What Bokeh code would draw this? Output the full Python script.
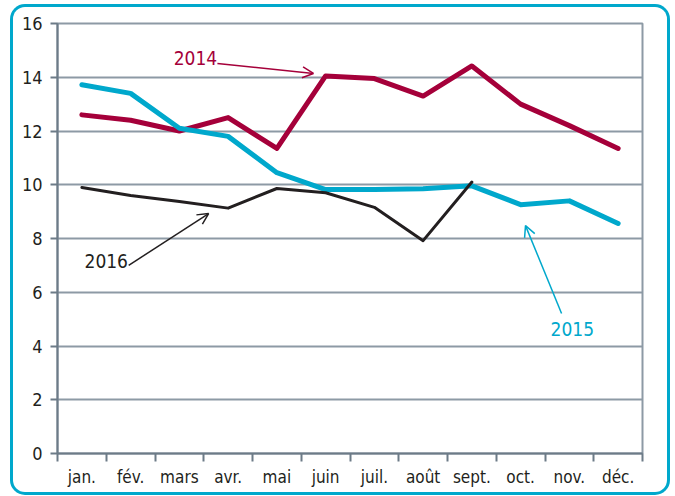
from bokeh.plotting import figure
from bokeh.models import FixedTicker, Range1d, Arrow, OpenHead, Label
from bokeh.embed import file_html
from bokeh.resources import INLINE

months = ["jan.", "fév.", "mars", "avr.", "mai", "juin", "juil.", "août",
          "sept.", "oct.", "nov.", "déc."]
y2014 = [12.6, 12.4, 12.0, 12.5, 11.35, 14.05, 13.95, 13.3, 14.42, 13.0, 12.2, 11.35]
y2015 = [13.72, 13.4, 12.1, 11.8, 10.45, 9.82, 9.82, 9.85, 9.96, 9.26, 9.4, 8.56]
y2016 = [9.9, 9.6, 9.38, 9.13, 9.86, 9.7, 9.16, 7.92, 10.1]
y_ticks = [0, 2, 4, 6, 8, 10, 12, 14, 16]

RED = "#a5003a"
CYAN = "#00a8cc"
BLACK = "#231f20"
GRID = "#8d9aa5"
AXIS = "#6c7b87"
FONT = "DejaVu Sans Condensed"

xc = [i + 0.5 for i in range(len(months))]

p = figure(width=654, height=485, output_backend="svg", toolbar_location=None,
           x_range=Range1d(0, 12), y_range=Range1d(0, 16),
           min_border_left=44, min_border_right=25, min_border_top=16,
           min_border_bottom=39)
p.styles = {"position": "absolute", "left": "13px", "top": "7px",
            "border-radius": "12px", "box-shadow": "0 0 0 3px " + CYAN}
p.background_fill_color = "white"
p.border_fill_alpha = 0
p.outline_line_color = GRID
p.outline_line_width = 2

p.xgrid.grid_line_color = None
p.ygrid.ticker = FixedTicker(ticks=y_ticks)
p.ygrid.grid_line_color = GRID
p.ygrid.grid_line_width = 2

p.yaxis.ticker = FixedTicker(ticks=y_ticks)
p.yaxis.axis_line_color = AXIS
p.yaxis.axis_line_width = 2
p.yaxis.major_tick_line_color = AXIS
p.yaxis.major_tick_line_width = 2
p.yaxis.major_tick_out = 7
p.yaxis.major_tick_in = 0
p.yaxis.minor_tick_line_color = None
p.yaxis.major_label_standoff = 8
p.yaxis.major_label_text_font = FONT
p.yaxis.major_label_text_font_size = "18px"
p.yaxis.major_label_text_color = BLACK

p.xaxis.ticker = FixedTicker(ticks=xc, minor_ticks=list(range(13)))
p.xaxis.major_label_overrides = {x: m for x, m in zip(xc, months)}
p.xaxis.axis_line_color = AXIS
p.xaxis.axis_line_width = 2
p.xaxis.major_tick_line_color = None
p.xaxis.minor_tick_line_color = AXIS
p.xaxis.minor_tick_line_width = 2
p.xaxis.minor_tick_out = 8
p.xaxis.minor_tick_in = 0
p.xaxis.major_label_standoff = 5
p.xaxis.major_label_text_font = FONT
p.xaxis.major_label_text_font_size = "17px"
p.xaxis.major_label_text_color = BLACK

p.line(xc, y2014, line_color=RED, line_width=5, line_join="round", line_cap="round")
p.line(xc, y2015, line_color=CYAN, line_width=5, line_join="round", line_cap="round")
p.line(xc[:len(y2016)], y2016, line_color=BLACK, line_width=3, line_join="round", line_cap="round")

p.add_layout(Label(x=2.83, y=14.7, text="2014", text_color=RED, text_font=FONT,
                   text_font_size="19px", text_align="center", text_baseline="middle"))
p.add_layout(Arrow(x_start=3.28, y_start=14.51, x_end=5.25, y_end=14.14,
                   line_color=RED, line_width=1.5,
                   end=OpenHead(size=11, line_color=RED, line_width=1.5)))
p.add_layout(Label(x=1.0, y=7.18, text="2016", text_color=BLACK, text_font=FONT,
                   text_font_size="19px", text_align="center", text_baseline="middle"))
p.add_layout(Arrow(x_start=1.46, y_start=7.0, x_end=3.10, y_end=8.93,
                   line_color=BLACK, line_width=1.5,
                   end=OpenHead(size=11, line_color=BLACK, line_width=1.5)))
p.add_layout(Label(x=10.56, y=4.65, text="2015", text_color=CYAN, text_font=FONT,
                   text_font_size="19px", text_align="center", text_baseline="middle"))
p.add_layout(Arrow(x_start=10.34, y_start=5.21, x_end=9.6, y_end=8.48,
                   line_color=CYAN, line_width=1.5,
                   end=OpenHead(size=11, line_color=CYAN, line_width=1.5)))

open("out.html", "w").write(file_html(p, INLINE))
